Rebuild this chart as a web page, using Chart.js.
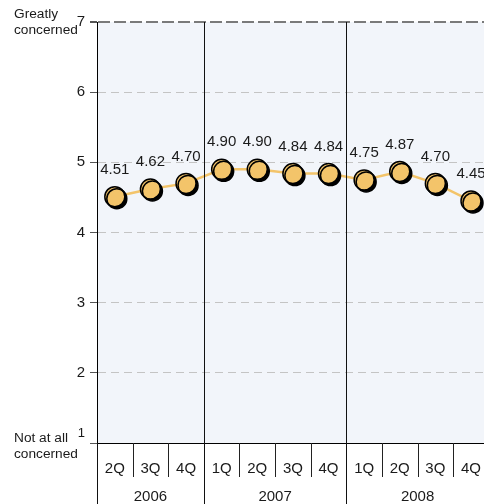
<!DOCTYPE html>
<html>
<head>
<meta charset="utf-8">
<script src="https://cdn.jsdelivr.net/npm/chart.js@4/dist/chart.umd.min.js"></script>
<style>
  html, body { margin: 0; padding: 0; background: #ffffff; overflow: hidden; }
  #wrap { width: 490px; height: 504px; }
</style>
</head>
<body>
<div id="wrap"><canvas id="c" width="490" height="504"></canvas></div>
<script>
// Quarterly concern index, 2Q 2006 – 4Q 2008
const quarters = ['2Q', '3Q', '4Q', '1Q', '2Q', '3Q', '4Q', '1Q', '2Q', '3Q', '4Q'];
const years = ['2006', '2007', '2008'];
const quartersPerYear = [3, 4, 4];
const concern = [4.51, 4.62, 4.70, 4.90, 4.90, 4.84, 4.84, 4.75, 4.87, 4.70, 4.45];
const yTicks = [1, 2, 3, 4, 5, 6, 7];
const topNote = ['Greatly', 'concerned'];
const bottomNote = ['Not at all', 'concerned'];

const FONT = "'Liberation Sans', Arial, sans-serif";
const GOLD = '#f3c46a';
const TEXT = '#1a1a1a';

const decorations = {
  id: 'decorations',
  beforeDraw(chart) {
    const { ctx, chartArea: a } = chart;
    ctx.save();
    ctx.fillStyle = '#f2f5fa';
    ctx.fillRect(a.left, a.top, a.right - a.left, a.bottom - a.top);
    ctx.restore();
  },
  beforeDatasetDraw(chart, args) {
    if (args.meta.index === 1) {
      const ctx = chart.ctx;
      ctx.save();
      ctx.shadowColor = 'rgba(0,0,0,1)';
      ctx.shadowOffsetX = 2;
      ctx.shadowOffsetY = 2;
      ctx.shadowBlur = 0;
    }
  },
  afterDatasetDraw(chart, args) {
    if (args.meta.index === 1) chart.ctx.restore();
  },
  afterDraw(chart) {
    const { ctx, chartArea: a, scales } = chart;
    const x = scales.x, y = scales.y;
    const H = chart.height;
    const step = (a.right - a.left) / quarters.length;
    const edge = i => x.getPixelForValue(i) - step / 2;

    ctx.save();
    // quarter separators in the label band
    ctx.strokeStyle = '#222';
    ctx.lineWidth = 1;
    for (let i = 1; i < quarters.length; i++) {
      const px = Math.round(edge(i)) + 0.5;
      ctx.beginPath();
      ctx.moveTo(px, a.bottom);
      ctx.lineTo(px, a.bottom + 34);
      ctx.stroke();
    }
    // year separators and left axis extension
    let start = 0;
    const bounds = [0];
    quartersPerYear.forEach(n => { start += n; bounds.push(start); });
    ctx.strokeStyle = '#111';
    bounds.forEach((b, k) => {
      if (b >= quarters.length) return;
      const px = Math.round(edge(b)) + 0.5;
      ctx.beginPath();
      ctx.moveTo(px, k === 0 ? a.bottom : a.top);
      ctx.lineTo(px, H);
      ctx.stroke();
    });
    // year labels
    ctx.fillStyle = TEXT;
    ctx.font = '15px ' + FONT;
    ctx.textAlign = 'center';
    ctx.textBaseline = 'middle';
    years.forEach((yr, k) => {
      const cx = (edge(bounds[k]) + edge(bounds[k + 1])) / 2;
      ctx.fillText(yr, cx, a.bottom + 54);
    });

    // value labels above points
    const meta = chart.getDatasetMeta(1);
    meta.data.forEach((pt, i) => {
      ctx.fillText(concern[i].toFixed(2), pt.x, pt.y - 27);
    });

    // lowest tick label sits a little above its line
    ctx.textAlign = 'right';
    ctx.font = '13px ' + FONT;
    ctx.fillText('1', 85, y.getPixelForValue(1) - 10);

    // scale end notes
    ctx.textAlign = 'left';
    ctx.textBaseline = 'alphabetic';
    ctx.font = '13.7px ' + FONT;
    topNote.forEach((t, i) => ctx.fillText(t, 14, 18 + i * 15.5));
    bottomNote.forEach((t, i) => ctx.fillText(t, 14, 442 + i * 16));
    ctx.restore();
  }
};

new Chart(document.getElementById('c'), {
  type: 'line',
  data: {
    labels: quarters,
    datasets: [
      {
        data: concern,
        borderColor: GOLD,
        borderWidth: 2.5,
        pointRadius: 0,
        tension: 0,
        order: 2
      },
      {
        data: concern,
        showLine: false,
        pointRadius: 10,
        pointHoverRadius: 10,
        pointBackgroundColor: GOLD,
        pointBorderColor: '#000',
        pointBorderWidth: 1.5,
        order: 1
      }
    ]
  },
  options: {
    responsive: false,
    animation: false,
    events: [],
    layout: { autoPadding: false, padding: { top: 22, left: 0, right: 0, bottom: 0 } },
    plugins: { legend: { display: false }, tooltip: { enabled: false } },
    scales: {
      x: {
        type: 'category',
        offset: true,
        grid: { display: false },
        border: { display: true, color: '#000', width: 1 },
        ticks: {
          color: TEXT,
          font: { family: FONT, size: 15 },
          padding: 9,
          maxRotation: 0,
          autoSkip: false
        },
        afterFit(s) { s.height = 61; }
      },
      y: {
        min: 1,
        max: 7,
        afterBuildTicks(s) { s.ticks = yTicks.map(v => ({ value: v })); },
        grid: {
          color: c => c.tick && c.tick.value === 7 ? '#7a7a7a' : (c.tick && c.tick.value === 1 ? 'rgba(0,0,0,0)' : '#c4c4c4'),
          lineWidth: c => c.tick && c.tick.value === 7 ? 2 : 1,
          tickColor: '#555',
          tickLength: 7,
          drawTicks: true
        },
        border: {
          display: true,
          color: '#000',
          width: 1,
          dash: c => c.tick && c.tick.value === 7 ? [12, 4] : [8, 5]
        },
        ticks: {
          color: TEXT,
          font: { family: FONT, size: 15 },
          padding: 5,
          callback: v => (v === 1 ? '' : String(v))
        },
        afterFit(s) { s.width = 97; }
      }
    }
  },
  plugins: [decorations]
});
</script>
</body>
</html>
